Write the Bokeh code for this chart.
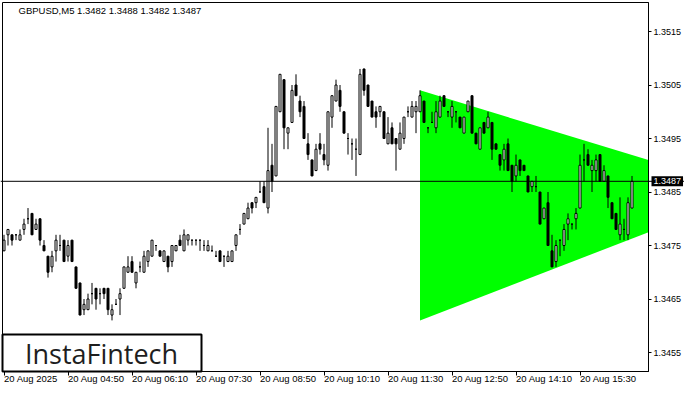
import numpy as np
from bokeh.plotting import figure
from bokeh.models import (Range1d, FixedTicker, Span, Label, BoxAnnotation, ColumnDataSource,
                          PrintfTickFormatter, LinearAxis)
from bokeh.embed import file_html
from bokeh.resources import INLINE

# ---------------- data ----------------
symbol = "GBPUSD,M5"
brand = "InstaFintech"
time_tick_bars = [0, 16, 32, 48, 64, 80, 96, 112, 128, 144]
time_tick_labels = ["20 Aug 2025", "20 Aug 04:50", "20 Aug 06:10", "20 Aug 07:30", "20 Aug 08:50",
                    "20 Aug 10:10", "20 Aug 11:30", "20 Aug 12:50", "20 Aug 14:10", "20 Aug 15:30"]
price_ticks = [1.3455, 1.3465, 1.3475, 1.3485, 1.3495, 1.3505, 1.3515]

opens = [1.3474, 1.3477, 1.3477, 1.3477, 1.3476, 1.3478, 1.3480, 1.3481, 1.3478, 1.3480,
         1.3475, 1.3473, 1.3471, 1.3474, 1.3475, 1.3476, 1.3473, 1.3476, 1.3471, 1.3468,
         1.3463, 1.3463, 1.3466, 1.3467, 1.3466, 1.3467, 1.3467, 1.3462, 1.3464, 1.3465,
         1.3467, 1.3470, 1.3472, 1.3468, 1.3471, 1.3470, 1.3472, 1.3473, 1.3475, 1.3474,
         1.3472, 1.3473, 1.3472, 1.3474, 1.3476, 1.3474, 1.3476, 1.3476, 1.3476, 1.3476,
         1.3475, 1.3474, 1.3474, 1.3473, 1.3474, 1.3473, 1.3472, 1.3472, 1.3475, 1.3478,
         1.3479, 1.3480, 1.3483, 1.3483, 1.3485, 1.3486, 1.3482, 1.3490, 1.3488, 1.3500,
         1.3506, 1.3496, 1.3498, 1.3505, 1.3502, 1.3501, 1.3494, 1.3491, 1.3489, 1.3494,
         1.3492, 1.3490, 1.3499, 1.3502, 1.3504, 1.3500, 1.3495, 1.3494, 1.3493, 1.3492,
         1.3508, 1.3505, 1.3502, 1.3500, 1.3500, 1.3500, 1.3494, 1.3497, 1.3495, 1.3493,
         1.3495, 1.3500, 1.3499, 1.3500, 1.3500, 1.3502, 1.3497, 1.3498, 1.3497, 1.3499,
         1.3503, 1.3500, 1.3499, 1.3500, 1.3499, 1.3496, 1.3500, 1.3503, 1.3496, 1.3493,
         1.3498, 1.3497, 1.3498, 1.3494, 1.3492, 1.3491, 1.3494, 1.3490, 1.3488, 1.3491,
         1.3490, 1.3488, 1.3486, 1.3486, 1.3485, 1.3480, 1.3483, 1.3474, 1.3472, 1.3476,
         1.3475, 1.3479, 1.3479, 1.3480, 1.3482, 1.3491, 1.3492, 1.3489, 1.3489, 1.3492,
         1.3487, 1.3488, 1.3483, 1.3481, 1.3477, 1.3478, 1.3477, 1.3482]
highs = [1.3477, 1.3478, 1.3477, 1.3477, 1.3478, 1.3480, 1.3482, 1.3481, 1.3480, 1.3480,
         1.3476, 1.3473, 1.3474, 1.3477, 1.3477, 1.3476, 1.3476, 1.3476, 1.3471, 1.3468,
         1.3465, 1.3466, 1.3468, 1.3467, 1.3467, 1.3467, 1.3467, 1.3464, 1.3465, 1.3467,
         1.3471, 1.3473, 1.3473, 1.3470, 1.3472, 1.3474, 1.3474, 1.3476, 1.3475, 1.3474,
         1.3474, 1.3473, 1.3475, 1.3475, 1.3477, 1.3478, 1.3477, 1.3476, 1.3476, 1.3476,
         1.3476, 1.3476, 1.3475, 1.3474, 1.3474, 1.3473, 1.3474, 1.3474, 1.3477, 1.3479,
         1.3481, 1.3483, 1.3483, 1.3484, 1.3487, 1.3487, 1.3497, 1.3494, 1.3501, 1.3507,
         1.3506, 1.3497, 1.3505, 1.3507, 1.3503, 1.3502, 1.3496, 1.3491, 1.3494, 1.3496,
         1.3494, 1.3500, 1.3503, 1.3506, 1.3505, 1.3500, 1.3496, 1.3495, 1.3495, 1.3508,
         1.3508, 1.3505, 1.3502, 1.3501, 1.3501, 1.3500, 1.3499, 1.3498, 1.3495, 1.3498,
         1.3499, 1.3501, 1.3502, 1.3502, 1.3504, 1.3502, 1.3497, 1.3500, 1.3502, 1.3503,
         1.3503, 1.3500, 1.3502, 1.3500, 1.3499, 1.3499, 1.3502, 1.3503, 1.3496, 1.3497,
         1.3498, 1.3500, 1.3498, 1.3494, 1.3492, 1.3494, 1.3495, 1.3490, 1.3492, 1.3491,
         1.3490, 1.3488, 1.3487, 1.3488, 1.3485, 1.3482, 1.3485, 1.3477, 1.3476, 1.3476,
         1.3479, 1.3481, 1.3479, 1.3482, 1.3492, 1.3494, 1.3493, 1.3491, 1.3492, 1.3492,
         1.3490, 1.3488, 1.3483, 1.3481, 1.3484, 1.3480, 1.3484, 1.3488]
lows = [1.3474, 1.3475, 1.3475, 1.3476, 1.3476, 1.3477, 1.3479, 1.3477, 1.3478, 1.3475,
        1.3474, 1.3469, 1.3470, 1.3472, 1.3474, 1.3472, 1.3472, 1.3472, 1.3467, 1.3462,
        1.3462, 1.3463, 1.3464, 1.3463, 1.3464, 1.3465, 1.3462, 1.3461, 1.3464, 1.3462,
        1.3467, 1.3470, 1.3470, 1.3467, 1.3470, 1.3470, 1.3471, 1.3473, 1.3474, 1.3473,
        1.3472, 1.3470, 1.3471, 1.3474, 1.3475, 1.3474, 1.3475, 1.3475, 1.3475, 1.3474,
        1.3474, 1.3474, 1.3474, 1.3473, 1.3472, 1.3471, 1.3472, 1.3472, 1.3474, 1.3477,
        1.3479, 1.3480, 1.3481, 1.3482, 1.3485, 1.3483, 1.3481, 1.3485, 1.3488, 1.3500,
        1.3493, 1.3493, 1.3498, 1.3503, 1.3499, 1.3495, 1.3491, 1.3488, 1.3489, 1.3492,
        1.3490, 1.3489, 1.3497, 1.3502, 1.3500, 1.3496, 1.3492, 1.3491, 1.3488, 1.3492,
        1.3503, 1.3501, 1.3499, 1.3497, 1.3499, 1.3495, 1.3494, 1.3494, 1.3489, 1.3493,
        1.3494, 1.3499, 1.3499, 1.3496, 1.3500, 1.3498, 1.3496, 1.3498, 1.3496, 1.3499,
        1.3501, 1.3499, 1.3497, 1.3498, 1.3497, 1.3496, 1.3500, 1.3496, 1.3494, 1.3493,
        1.3496, 1.3497, 1.3491, 1.3493, 1.3489, 1.3489, 1.3489, 1.3485, 1.3487, 1.3488,
        1.3489, 1.3485, 1.3485, 1.3485, 1.3479, 1.3480, 1.3475, 1.3471, 1.3471, 1.3473,
        1.3474, 1.3476, 1.3478, 1.3478, 1.3482, 1.3487, 1.3490, 1.3485, 1.3487, 1.3487,
        1.3487, 1.3482, 1.3480, 1.3478, 1.3476, 1.3476, 1.3476, 1.3482]
closes = [1.3476, 1.3478, 1.3476, 1.3477, 1.3477, 1.3479, 1.3480, 1.3477, 1.3479, 1.3476,
          1.3474, 1.3470, 1.3473, 1.3476, 1.3475, 1.3472, 1.3475, 1.3472, 1.3467, 1.3462,
          1.3464, 1.3465, 1.3466, 1.3465, 1.3466, 1.3466, 1.3463, 1.3463, 1.3464, 1.3466,
          1.3471, 1.3471, 1.3470, 1.3470, 1.3471, 1.3473, 1.3474, 1.3476, 1.3475, 1.3473,
          1.3474, 1.3471, 1.3475, 1.3475, 1.3475, 1.3477, 1.3477, 1.3476, 1.3476, 1.3476,
          1.3475, 1.3475, 1.3474, 1.3473, 1.3472, 1.3473, 1.3473, 1.3474, 1.3477, 1.3478,
          1.3481, 1.3482, 1.3482, 1.3484, 1.3485, 1.3483, 1.3489, 1.3487, 1.3501, 1.3507,
          1.3497, 1.3497, 1.3504, 1.3503, 1.3500, 1.3495, 1.3492, 1.3488, 1.3493, 1.3493,
          1.3491, 1.3500, 1.3503, 1.3505, 1.3501, 1.3496, 1.3495, 1.3494, 1.3493, 1.3507,
          1.3504, 1.3501, 1.3499, 1.3499, 1.3501, 1.3495, 1.3496, 1.3494, 1.3494, 1.3496,
          1.3499, 1.3500, 1.3501, 1.3501, 1.3503, 1.3498, 1.3497, 1.3498, 1.3500, 1.3502,
          1.3501, 1.3500, 1.3501, 1.3500, 1.3497, 1.3499, 1.3502, 1.3496, 1.3494, 1.3497,
          1.3496, 1.3499, 1.3493, 1.3493, 1.3490, 1.3493, 1.3489, 1.3487, 1.3490, 1.3489,
          1.3489, 1.3485, 1.3487, 1.3486, 1.3479, 1.3482, 1.3475, 1.3471, 1.3475, 1.3476,
          1.3478, 1.3480, 1.3479, 1.3481, 1.3490, 1.3491, 1.3490, 1.3490, 1.3491, 1.3487,
          1.3489, 1.3484, 1.3480, 1.3478, 1.3479, 1.3478, 1.3483, 1.3487]

triangle_bars = [104, 187.25, 104]
triangle_prices = [1.3504, 1.3485, 1.3461]

# ---------------- layout helpers (figure pixels -> data) ----------------
W, H = 684, 384
LEFT_PX, TOP_PX, EDGE_PX, BOTTOM_PX = 2, 2, 648, 371   # chart box inside the figure
BAR0_PX, BAR_PX = 3.5, 4.0
PRICE_REF, PRICE_REF_PX, PX_PER_PRICE = 1.3515, 31.0, 53500.0


def px2bar(px):
    return (px - BAR0_PX) / BAR_PX


def py2price(py):
    return PRICE_REF - (py - PRICE_REF_PX) / PX_PER_PRICE


FONT = "Liberation Sans"

p = figure(width=W, height=H, output_backend="svg", toolbar_location=None, tools="",
           x_range=Range1d(px2bar(0), px2bar(W)),
           y_range=Range1d(py2price(H), py2price(0)),
           x_axis_location=None, y_axis_location=None,
           min_border=0, min_border_left=0, min_border_top=0, min_border_right=0, min_border_bottom=0)
p.grid.visible = False
p.background_fill_color = "white"
p.border_fill_color = "white"
p.outline_line_color = None

edge_bar = px2bar(EDGE_PX)
left_bar = px2bar(LEFT_PX)
bottom_price = py2price(BOTTOM_PX)
top_price = py2price(TOP_PX)

# time axis
xa = LinearAxis(ticker=FixedTicker(ticks=time_tick_bars),
                major_label_overrides={b: l for b, l in zip(time_tick_bars, time_tick_labels)},
                fixed_location=bottom_price, bounds=(left_bar, edge_bar))
xa.major_tick_out = 4
xa.major_tick_in = 0
xa.minor_tick_out = 0
xa.minor_tick_in = 0
xa.major_label_standoff = 3
xa.major_label_orientation = -0.0001
xa.major_label_text_font = FONT
xa.major_label_text_font_size = "9.5px"
xa.major_label_text_color = "black"
xa.axis_line_color = "black"
xa.major_tick_line_color = "black"
p.add_layout(xa, "below")

# price axis
ya = LinearAxis(ticker=FixedTicker(ticks=price_ticks), formatter=PrintfTickFormatter(format="%.4f"),
                fixed_location=edge_bar, bounds=(bottom_price, top_price))
ya.major_tick_out = 3
ya.major_tick_in = 0
ya.minor_tick_out = 0
ya.minor_tick_in = 0
ya.major_label_standoff = 2
ya.major_label_text_font = FONT
ya.major_label_text_font_size = "9px"
ya.major_label_text_color = "black"
ya.axis_line_color = "black"
ya.major_tick_line_color = "black"
p.add_layout(ya, "right")

# triangle pattern (cut at the chart's right edge)
def _line_at(b, b0, p0, b1, p1):
    return p0 + (p1 - p0) * (b - b0) / (b1 - b0)

tri_top_edge = _line_at(edge_bar, triangle_bars[0], triangle_prices[0], triangle_bars[1], triangle_prices[1])
tri_bot_edge = _line_at(edge_bar, triangle_bars[2], triangle_prices[2], triangle_bars[1], triangle_prices[1])
p.patch([triangle_bars[0], edge_bar, edge_bar, triangle_bars[2]],
        [triangle_prices[0], tri_top_edge, tri_bot_edge, triangle_prices[2]],
        fill_color="#00ff00", line_color=None)

# candles
o = np.array(opens)
c = np.array(closes)
src = ColumnDataSource(dict(
    x=np.arange(len(opens)), h=highs, l=lows,
    top=np.maximum(o, c), bottom=np.minimum(o, c),
    fill=["white" if cc >= oo else "black" for oo, cc in zip(opens, closes)],
))
p.segment(x0="x", y0="l", x1="x", y1="h", source=src, line_color="black", line_width=1)
p.vbar(x="x", width=0.5, top="top", bottom="bottom", fill_color="fill",
       line_color="black", line_width=1, source=src)

# bid line
p.add_layout(Span(location=closes[-1], dimension="width", line_color="black", line_width=1))

# chart border
p.add_layout(BoxAnnotation(left=left_bar, right=edge_bar, top=top_price, bottom=bottom_price,
                           fill_alpha=0, line_color="black", line_alpha=1.0, line_width=1))

# header text
p.add_layout(Label(x=px2bar(18), y=py2price(10),
                   text=f"{symbol}  {opens[-1]:.4f} {highs[-1]:.4f} {lows[-1]:.4f} {closes[-1]:.4f}",
                   text_font=FONT, text_font_size="9.5px", text_color="black",
                   text_baseline="middle", text_align="left"))

# price tag on axis
p.add_layout(Label(x=px2bar(EDGE_PX + 3), y=closes[-1], text=f"{closes[-1]:.4f}", text_font=FONT,
                   text_font_size="9px", text_color="white", text_baseline="middle", text_align="left",
                   background_fill_color="black", background_fill_alpha=1.0, padding=2))

# logo
p.add_layout(BoxAnnotation(left=left_bar, right=px2bar(201), top=py2price(334), bottom=bottom_price,
                           fill_color="white", fill_alpha=1.0, line_color="black", line_alpha=1.0,
                           line_width=2))
p.add_layout(Label(x=px2bar(101), y=py2price(353), text=brand, text_font="Open Sans", text_font_size="27px",
                   text_color="#1e1e1e", text_baseline="middle", text_align="center"))

open("out.html", "w").write(file_html(p, INLINE))
